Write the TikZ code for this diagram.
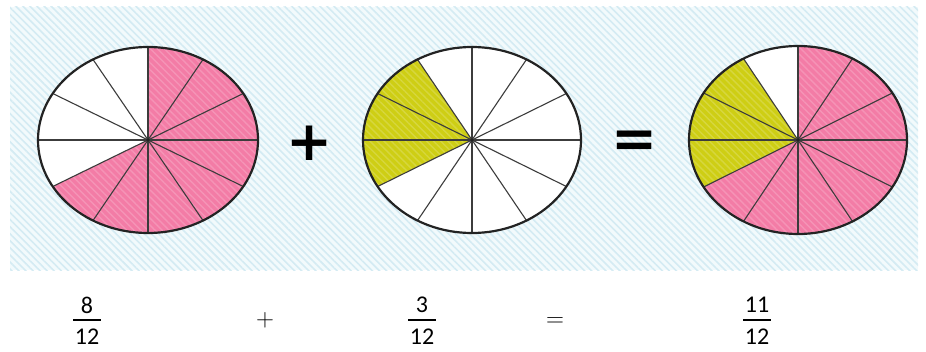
\documentclass[tikz,border=0pt]{standalone}
\usepackage{fontspec}
\newfontfamily\numfont{Carlito}
\newfontfamily\symfont{DejaVu Sans}
\usetikzlibrary{patterns.meta}
\definecolor{pinkfill}{RGB}{243,124,166}
\definecolor{yellowfill}{RGB}{206,206,20}
\definecolor{bgbase}{RGB}{242,250,252}
\definecolor{bgstripe}{RGB}{212,235,243}
\definecolor{spokecol}{RGB}{60,60,60}
\definecolor{rimcol}{RGB}{35,35,35}
\newcommand\piesector[6]{%
  \fill[#6] (#1) -- ++(#4:#2 and #3) arc[start angle=#4,end angle=#5,x radius=#2,y radius=#3] -- cycle;
  \fill[pattern={Lines[angle=-45,distance=5pt,line width=1.4pt]}, pattern color=white, opacity=0.18]
    (#1) -- ++(#4:#2 and #3) arc[start angle=#4,end angle=#5,x radius=#2,y radius=#3] -- cycle;}
\newcommand\piespokes[3]{%
  \foreach \a in {0,30,...,330} \draw[spokeline] (#1) -- ++(\a:#2 and #3);
  \draw[rimline] (#1) ellipse[x radius=#2,y radius=#3];
  \fill[rimcol] (#1) circle[radius=1.8];}
\begin{document}
\begin{tikzpicture}[x=1pt,y=1pt,
  spokeline/.style={draw=spokecol,line width=1.1pt},
  rimline/.style={draw=rimcol,line width=2.2pt},
  numtext/.style={inner sep=0pt,font=\numfont\fontsize{24}{24}\selectfont},
  smallsym/.style={inner sep=0pt,font=\fontsize{24}{24}\selectfont},
  bigsym/.style={inner sep=0pt,font=\symfont\bfseries\fontsize{55}{55}\selectfont},
  fracbar/.style={draw=black,line width=2pt}]
\useasboundingbox (0,0) rectangle (926,351);
% hatched background
\fill[bgbase] (10,81) rectangle (918,344);
\fill[pattern={Lines[angle=-45,distance=5pt,line width=1.6pt]}, pattern color=bgstripe] (10,81) rectangle (918,344);
% centres
\coordinate (c1) at (148,211);
\coordinate (c2) at (472,211);
\coordinate (c3) at (798,211);
% ellipse 1: 8/12 pink
\fill[white] (c1) ellipse[x radius=110,y radius=93];
\piesector{c1}{110}{93}{-150}{90}{pinkfill}
\piespokes{c1}{110}{93}
% ellipse 2: 3/12 yellow
\fill[white] (c2) ellipse[x radius=109,y radius=93];
\piesector{c2}{109}{93}{120}{210}{yellowfill}
\piespokes{c2}{109}{93}
% ellipse 3: 11/12
\fill[white] (c3) ellipse[x radius=109,y radius=94];
\piesector{c3}{109}{94}{-150}{90}{pinkfill}
\piesector{c3}{109}{94}{120}{210}{yellowfill}
\piespokes{c3}{109}{94}
% big operators
\node[bigsym] (bigplus) at (310,208) {+};
\node[bigsym] (bigeq) at (635,207) {=};
% fractions
\node[numtext] (n1) at (87,46) {8};
\draw[fracbar] (73,31) -- (101,31);
\node[numtext] (d1) at (87,14) {12};
\node[smallsym] (splus) at (265,31) {$+$};
\node[numtext] (n2) at (422,46) {3};
\draw[fracbar] (408,31) -- (436,31);
\node[numtext] (d2) at (422,14) {12};
\node[smallsym] (seq) at (555,29) {$=$};
\node[numtext] (n3) at (757,46) {11};
\draw[fracbar] (743,31) -- (771,31);
\node[numtext] (d3) at (757,14) {12};
\end{tikzpicture}
\end{document}
